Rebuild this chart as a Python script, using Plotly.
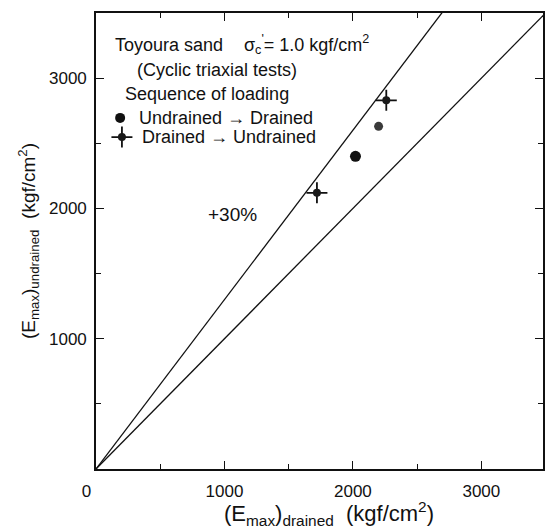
import plotly.graph_objects as go

# Maximum Young's modulus, kgf/cm^2
ud_drained = [2020, 2200]      # undrained -> drained sequence
ud_undrained = [2400, 2630]
du_drained = [1720, 2260]      # drained -> undrained sequence
du_undrained = [2120, 2830]

ratio_lines = [1.0, 1.3]       # y = k * x reference lines
line_x = [0, 3500]

x_ticks = [0, 1000, 2000, 3000]
x_ticktext = ["0\u00a0\u00a0\u00a0\u00a0", "1000", "2000", "3000"]
y_ticks = [1000, 2000, 3000]

FONT = "Liberation Sans, Arial, Helvetica, sans-serif"
INK = "#111"

fig = go.Figure()

for k in ratio_lines:
    fig.add_trace(go.Scatter(
        x=line_x, y=[k * v for v in line_x], mode="lines",
        line=dict(color=INK, width=1.3), hoverinfo="skip", showlegend=False))


def add_dot(x, y, size, color, xaxis="x", yaxis="y"):
    fig.add_trace(go.Scatter(
        x=x, y=y, mode="markers", xaxis=xaxis, yaxis=yaxis, showlegend=False,
        marker=dict(symbol="circle", size=size, color=color, opacity=1,
                    line=dict(width=0))))


def add_cross_dot(x, y, xaxis="x", yaxis="y"):
    fig.add_trace(go.Scatter(
        x=x, y=y, mode="markers", xaxis=xaxis, yaxis=yaxis, showlegend=False,
        marker=dict(symbol="cross-thin", size=15, color=INK, opacity=1,
                    line=dict(color=INK, width=1.8))))
    add_dot(x, y, 8, "#1a1a1a", xaxis, yaxis)


# undrained -> drained: the first test prints solid, the second a little lighter
add_dot(ud_drained[:1], ud_undrained[:1], 11, INK)
add_dot(ud_drained[1:], ud_undrained[1:], 9, "#3a3a3a")
add_cross_dot(du_drained, du_undrained)

# legend keys on a 0-1 overlay
add_dot([0.054], [0.770], 10, INK, "x2", "y2")
add_cross_dot([0.058], [0.728], xaxis="x2", yaxis="y2")

axis_common = dict(
    showline=True, linewidth=1.6, linecolor=INK, mirror="allticks",
    ticks="inside", ticklen=8, tickwidth=1.3, tickcolor=INK,
    showgrid=False, zeroline=False,
    tickfont=dict(family=FONT, size=17, color=INK),
    minor=dict(dtick=500, ticks="inside", ticklen=5, tickwidth=1.2,
               tickcolor=INK, showgrid=False),
)

fig.update_layout(
    width=547, height=530,
    margin=dict(l=96, r=2, t=13, b=61),
    paper_bgcolor="white", plot_bgcolor="white",
    font=dict(family=FONT, size=17, color=INK),
    xaxis=dict(range=[0, 3480], tickvals=x_ticks, ticktext=x_ticktext,
               ticklabelstandoff=6, **axis_common),
    yaxis=dict(range=[0, 3500], tickvals=y_ticks, ticklabelstandoff=4,
               title=dict(text="(E<sub>max</sub>)<sub>undrained</sub>  (kgf/cm<sup>2</sup>)",
                          font=dict(family=FONT, size=19), standoff=8),
               **axis_common),
    xaxis2=dict(overlaying="x", range=[0, 1], visible=False),
    yaxis2=dict(overlaying="y", range=[0, 1], visible=False),
    showlegend=False,
)

# x-axis title, set slightly right of the plot centre
fig.add_annotation(x=0.521, y=-0.060, xref="paper", yref="paper",
                   text="(E<sub>max</sub>)<sub>drained</sub>  (kgf/cm<sup>2</sup>)",
                   showarrow=False, xanchor="center", yanchor="top",
                   font=dict(family=FONT, size=22, color=INK))

notes = [
    (0.038, 0.930, "Toyoura sand"),
    (0.326, 0.930, "σ<sub>c</sub><sup>'</sup>= 1.0 kgf/cm<sup>2</sup>"),
    (0.087, 0.875, "(Cyclic triaxial tests)"),
    (0.060, 0.822, "Sequence of loading"),
    (0.091, 0.770, "Undrained → Drained"),
    (0.098, 0.728, "Drained → Undrained"),
]
for x, y, t in notes:
    fig.add_annotation(x=x, y=y, xref="paper", yref="paper", text=t,
                       showarrow=False, xanchor="left", yanchor="middle",
                       font=dict(family=FONT, size=18, color=INK))

fig.add_annotation(x=1060, y=1950, xref="x", yref="y", text="+30%",
                   showarrow=False, font=dict(family=FONT, size=19, color=INK))

fig.write_html("out.html")
